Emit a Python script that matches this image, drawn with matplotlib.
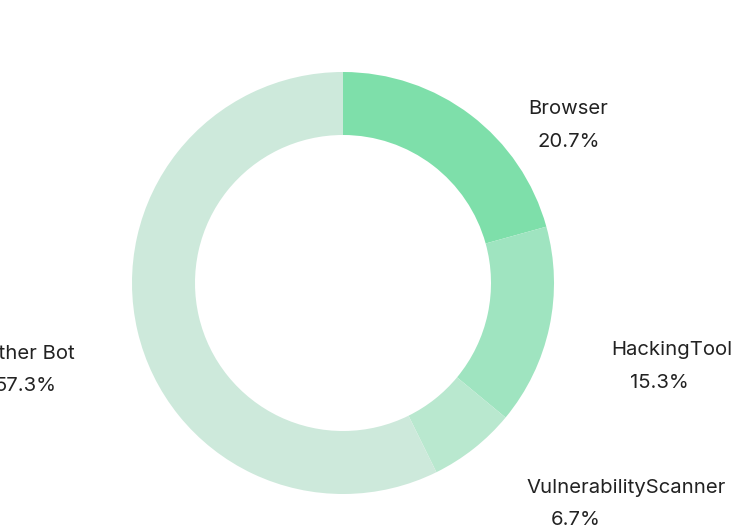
import matplotlib
matplotlib.use('Agg')
import matplotlib.pyplot as plt

# Slice data, clockwise from 12 o'clock
categories = ['Browser', 'HackingTool', 'VulnerabilityScanner', 'Other Bot']
shares = [20.7, 15.3, 6.7, 57.3]
colors = ['#7edfaa', '#9fe4c0', '#b9e8cf', '#cde9db']

# label layout in pixels from top-left: (x name, y name, x pct, y pct, align)
label_pos = {
    'Browser': (568, 109, 569, 142, 'center'),
    'HackingTool': (611, 350, 630, 383, 'left'),
    'VulnerabilityScanner': (526, 488, 551, 520, 'left'),
    'Other Bot': (75, 354, 56, 386, 'right'),
}

W, H = 752, 525
fig = plt.figure(figsize=(W / 100, H / 100), dpi=100)
ax = fig.add_axes([0, 0, 1, 1])

cx, cy, r = 343, H - 283, 211
ax.pie(shares, colors=colors, startangle=90, counterclock=False,
       center=(cx, cy), radius=r, frame=True,
       wedgeprops=dict(width=63, linewidth=0))
ax.set_xlim(0, W)
ax.set_ylim(0, H)
ax.set_aspect('equal')
ax.axis('off')

font = ['Inter', 'DejaVu Sans']
for name, val in zip(categories, shares):
    xn, yn, xp, yp, ha = label_pos[name]
    ax.text(xn, H - yn, name, ha=ha, va='center', fontsize=14.6,
            color='#222222', family=font)
    ax.text(xp, H - yp, f'{val}%', ha=ha, va='center', fontsize=14.6,
            color='#222222', family=font)

fig.savefig('out.png', dpi=100, facecolor='white')
